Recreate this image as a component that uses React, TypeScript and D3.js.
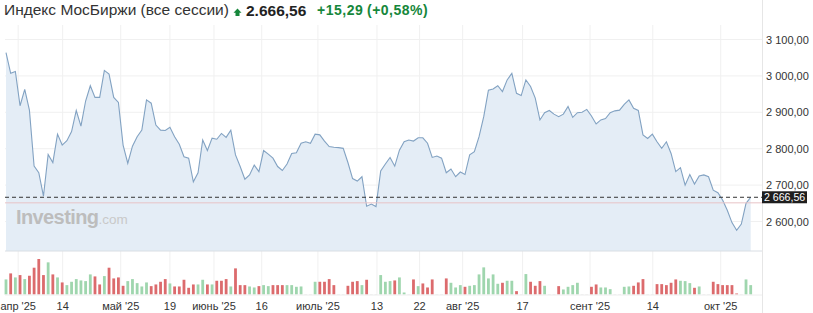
import React from "react";
import * as d3 from "d3";

// ---- DATA ----
const titleName = "Индекс МосБиржи (все сессии)";
const lastPrice = 2666.56;
const prevClose = 2651.27;
const changeAbs = "+15,29";
const changePct = "(+0,58%)";

const closes = [
  3064, 3007, 3012, 2918, 2963, 2906, 2752, 2734, 2670, 2784,
  2762, 2840, 2810, 2822, 2847, 2905, 2862, 2931, 2973, 2941,
  2941, 3015, 3005, 2941, 2927, 2810, 2760, 2807, 2833, 2851,
  2934, 2925, 2865, 2851, 2850, 2859, 2833, 2812, 2778, 2774,
  2709, 2734, 2824, 2795, 2829, 2826, 2842, 2831, 2851, 2783,
  2751, 2716, 2728, 2755, 2737, 2795, 2785, 2774, 2751, 2740,
  2758, 2787, 2789, 2815, 2819, 2815, 2840, 2838, 2821, 2806,
  2804, 2803, 2801, 2762, 2718, 2711, 2723, 2642, 2648, 2641,
  2739, 2758, 2776, 2752, 2796, 2819, 2824, 2821, 2830, 2830,
  2815, 2776, 2780, 2774, 2734, 2744, 2723, 2736, 2729, 2783,
  2792, 2833, 2888, 2961, 2964, 2973, 2957, 2989, 3007, 2952,
  2946, 2989, 2971, 2939, 2879, 2899, 2905, 2895, 2888, 2895,
  2916, 2886, 2899, 2900, 2908, 2890, 2868, 2879, 2883, 2899,
  2904, 2906, 2922, 2934, 2911, 2905, 2838, 2828, 2840, 2819,
  2801, 2819, 2787, 2737, 2748, 2700, 2729, 2703, 2725, 2728,
  2723, 2686, 2679, 2659, 2631, 2597, 2576, 2593, 2650, 2666.56,
];

const volumes = [
  45, 63, 51, 58, 46, 56, 80, 106, 58, 96,
  60, 51, 36, 28, 38, 46, 42, 40, 60, 54,
  30, 55, 80, 48, 51, 26, 40, 46, 34, 24,
  36, 25, 30, 38, 46, 33, 24, 24, 44, 20,
  30, 30, 44, 30, 30, 41, 41, 46, 24, 78,
  28, 28, 24, 21, 25, 28, 25, 28, 28, 28,
  28, 28, 23, 24, 1, 1, 38, 38, 38, 46,
  28, 1, 1, 26, 38, 40, 28, 44, 1, 1,
  58, 38, 40, 42, 51, 6, 1, 45, 25, 33,
  21, 45, 1, 1, 48, 35, 21, 28, 23, 26,
  28, 60, 81, 48, 60, 32, 35, 41, 41, 10,
  1, 61, 38, 26, 40, 26, 1, 1, 25, 15,
  23, 28, 35, 1, 1, 23, 30, 21, 21, 16,
  1, 1, 23, 24, 26, 36, 46, 1, 1, 31,
  31, 28, 35, 45, 41, 40, 34, 20, 24, 1,
  1, 38, 31, 28, 28, 28, 3, 1, 45, 28,
];

// u = up (green), d = down (red), n = tiny session
const volColors = [
  "u","d","u","d","u","d","d","d","d","u",
  "d","u","d","u","u","u","u","u","u","d",
  "d","u","d","d","d","d","u","u","u","u",
  "u","d","d","d","d","u","d","d","d","d",
  "d","u","u","d","u","d","d","d","u","d",
  "d","d","u","u","d","u","u","d","d","d",
  "u","u","u","u","n","n","u","d","d","d",
  "d","n","n","d","d","d","u","d","n","n",
  "u","u","u","d","u","u","n","d","u","d",
  "d","d","n","n","d","u","u","u","d","u",
  "u","u","u","u","u","u","d","u","u","d",
  "n","u","d","d","d","u","n","n","d","u",
  "u","u","u","n","n","d","d","u","u","u",
  "n","n","u","u","d","d","d","n","n","d",
  "d","d","d","d","u","u","u","d","u","n",
  "n","d","d","d","d","d","d","n","u","u",
];

const yTicks = [2600, 2700, 2800, 2900, 3000, 3100];
const xTickLabels = ["апр '25", "14", "май '25", "19", "июнь '25", "16", "июль '25", "13", "22", "авг '25", "17", "сент '25", "14", "окт '25"];
const xTickIdx = [2.6, 12.1, 24.5, 35, 44.4, 54.6, 66.6, 79.2, 88.3, 97.5, 110.3, 124.7, 138.1, 152.6];

// ---- LAYOUT ----
const W = 813;
const H = 313;
const plotLeft = 5;
const plotRight = 762.5;
const plotTop = 25;
const priceBottom = 251;
const volTop = 259;
const volBottom = 294.5;
const FONT = "'Liberation Sans', Arial, sans-serif";

const ru = d3.formatLocale({ decimal: ",", thousands: "\u00a0", grouping: [3], currency: ["", ""] });
const fmt = ru.format(",.2f");

export default function App() {
  const x = d3.scaleLinear().domain([0, closes.length - 1]).range([6, 750.7]);
  const y = d3.scaleLinear().domain([2600, 3100]).range([221.5, 39.5]);
  const v = d3.scaleLinear().domain([0, d3.max(volumes) as number]).range([volBottom, volTop]);

  const line = d3.line<number>().x((_, i) => x(i)).y((d) => y(d));
  const area = d3.area<number>().x((_, i) => x(i)).y0(priceBottom).y1((d) => y(d));

  const colorOf = (c: string) => (c === "u" ? "#9fd6ae" : c === "d" ? "#dc6b6d" : "#d5d5d5");

  return (
    <div style={{ position: "fixed", left: 0, top: 0 }}>
      <svg width={W} height={H} style={{ display: "block", background: "#fff" }} fontFamily={FONT}>
        {/* title */}
        <text x={4} y={15} fontSize={15.5} fill="#333">{titleName}</text>
        <path d="M233.5,12.8 L237.5,8.5 L241.5,12.8 L239.5,12.8 L239.5,16 L235.5,16 L235.5,12.8 Z" fill="#16873b" />
        <text x={246} y={15.5} fontSize={15.5} fontWeight="bold" fill="#222">{fmt(lastPrice).replace("\u00a0", ".")}</text>
        <text x={317} y={15} fontSize={14} fontWeight="bold" fill="#16873b" letterSpacing={0.5}>{changeAbs}</text>
        <text x={367} y={15} fontSize={14} fontWeight="bold" fill="#16873b" letterSpacing={0.5}>{changePct}</text>

        {/* grid */}
        {yTicks.map((t) => (
          <line key={"gy" + t} x1={plotLeft} x2={plotRight} y1={y(t)} y2={y(t)} stroke="#f0f0f0" />
        ))}
        {xTickIdx.map((t, i) => (
          <line key={"gx" + i} x1={x(t)} x2={x(t)} y1={plotTop} y2={volBottom} stroke="#f0f0f0" />
        ))}

        {/* area + line */}
        <path d={area(closes) || ""} fill="#e4edf6" />
        <path d={line(closes) || ""} fill="none" stroke="#82a2c2" strokeWidth={1.1} />

        {/* watermark */}
        <text x={16} y={224} fill="#bdbdbd">
          <tspan fontSize={20} fontWeight="bold" letterSpacing={-0.6}>Investing</tspan>
          <tspan fontSize={13.5} fill="#c9c9c9">.com</tspan>
        </text>

        {/* prev close and last price lines */}
        <line x1={plotLeft} x2={plotRight} y1={y(prevClose)} y2={y(prevClose)} stroke="#e8c3c6" strokeWidth={1} />
        <line x1={plotLeft} x2={plotRight} y1={y(lastPrice)} y2={y(lastPrice)} stroke="#333" strokeDasharray="4,3" strokeWidth={1} />

        {/* price bottom border */}
        <line x1={plotLeft} x2={plotRight} y1={priceBottom} y2={priceBottom} stroke="#d9dee4" />

        {/* volume */}
        {volumes.map((d, i) => (
          <rect key={"v" + i} x={x(i) - 1.4} width={2.8} y={v(d)} height={volBottom - v(d)} fill={colorOf(volColors[i])} />
        ))}
        <line x1={plotLeft} x2={plotRight} y1={volBottom + 0.5} y2={volBottom + 0.5} stroke="#eeeeee" />

        {/* right axis */}
        <line x1={plotRight} x2={plotRight} y1={0} y2={H} stroke="#e6e6e6" />
        {yTicks.map((t) => (
          <text key={"yt" + t} x={766} y={y(t) + 4} fontSize={11} fill="#333">{fmt(t)}</text>
        ))}
        <rect x={762} y={y(lastPrice) - 6} width={45} height={12} fill="#1e1e1e" />
        <text x={764} y={y(lastPrice) + 4} fontSize={10.6} fill="#fff">{fmt(lastPrice)}</text>

        {/* bottom axis */}
        {xTickLabels.map((l, i) => (
          <text key={"xt" + i} x={x(xTickIdx[i])} y={310} fontSize={11} fill="#333" textAnchor="middle">{l}</text>
        ))}
      </svg>
    </div>
  );
}
